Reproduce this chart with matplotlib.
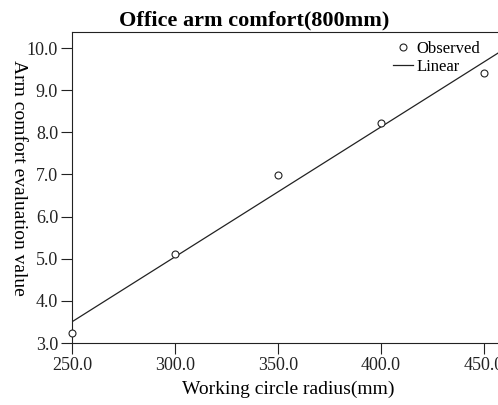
import matplotlib
matplotlib.use('Agg')
import matplotlib.pyplot as plt
import numpy as np
from matplotlib.ticker import FormatStrFormatter

# data
radius = [250, 300, 350, 400, 450]
comfort = [3.24, 5.11, 6.98, 8.21, 9.40]
x_ticks = [250, 300, 350, 400, 450]
y_ticks = [3, 4, 5, 6, 7, 8, 9, 10]

plt.rcParams['font.family'] = 'Liberation Serif'

fig = plt.figure(figsize=(4.98, 4.05), dpi=100)
ax = fig.add_axes([72 / 498, 0.153, 0.869, 0.768])

# linear fit
coef = np.polyfit(radius, comfort, 1)
xs = np.array([250, 460])
ax.plot(xs, np.polyval(coef, xs), color='#222222', lw=0.9, label='Linear')
ax.plot(radius, comfort, 'o', mfc='white', mec='#222222', ms=5, mew=0.8,
        label='Observed', clip_on=False, zorder=3)

ax.set_xlim(250, 460)
ax.set_ylim(3.0, 10.38)
ax.set_xticks(x_ticks)
ax.set_yticks(y_ticks)
ax.xaxis.set_major_formatter(FormatStrFormatter('%.1f'))
ax.yaxis.set_major_formatter(FormatStrFormatter('%.1f'))
ax.tick_params(direction='out', length=8, width=0.8, labelsize=13, pad=2, colors='#222222')
for s in ax.spines.values():
    s.set_linewidth(0.8)
    s.set_color('#222222')

ax.set_xlabel('Working circle radius(mm)', fontsize=14, labelpad=5)
fig.text(18 / 498, 1 - 178 / 405, 'Arm comfort evaluation value', rotation=270,
         fontsize=14, ha='center', va='center')
fig.text(254 / 498, 1 - 20 / 405, 'Office arm comfort(800mm)', fontsize=16,
         fontweight='bold', ha='center', va='center')

h, l = ax.get_legend_handles_labels()
ax.legend([h[1], h[0]], [l[1], l[0]], loc='upper left', frameon=False, fontsize=12,
          handlelength=1.2, handletextpad=0.2, labelspacing=0.1,
          bbox_to_anchor=(385 / 498, 1 - 33 / 405), bbox_transform=fig.transFigure,
          borderpad=0)

fig.savefig('out.png', dpi=100)
